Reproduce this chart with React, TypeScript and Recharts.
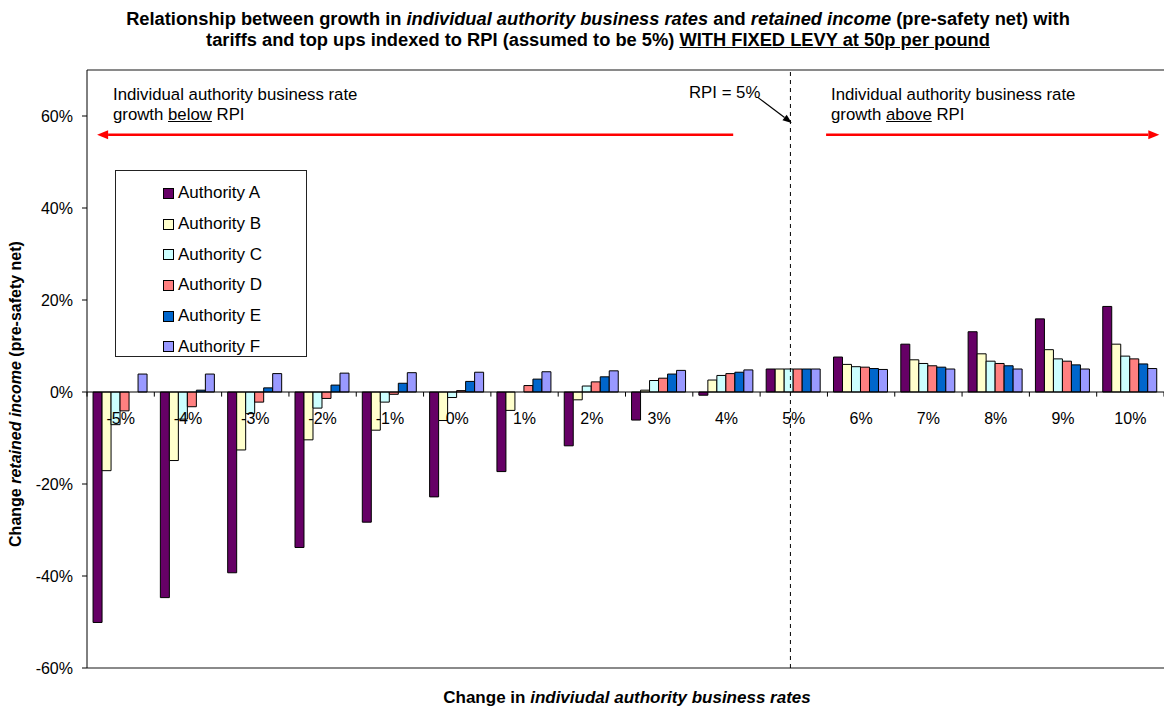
import React from 'react';
import { ComposedChart, Bar, XAxis, YAxis, ReferenceLine, ReferenceDot, Legend } from 'recharts';

// Change in individual authority business rates (categories)
const categories = ['-5%', '-4%', '-3%', '-2%', '-1%', '0%', '1%', '2%', '3%', '4%', '5%', '6%', '7%', '8%', '9%', '10%'];

// Change in retained income (pre-safety net), percent
const authorityA = [-50.1, -44.7, -39.3, -33.8, -28.3, -22.8, -17.3, -11.7, -6.1, -0.7, 5.0, 7.6, 10.4, 13.1, 15.9, 18.6];
const authorityB = [-17.1, -14.9, -12.6, -10.4, -8.3, -6.2, -4.0, -1.7, 0.4, 2.6, 5.0, 6.0, 7.0, 8.3, 9.2, 10.4];
const authorityC = [-7.1, -5.9, -4.7, -3.5, -2.2, -1.2, 0.0, 1.3, 2.5, 3.6, 5.0, 5.5, 6.2, 6.7, 7.2, 7.8];
const authorityD = [-4.1, -3.2, -2.2, -1.4, -0.5, 0.3, 1.4, 2.2, 3.0, 4.0, 5.0, 5.4, 5.7, 6.2, 6.7, 7.2];
const authorityE = [0.0, 0.4, 0.9, 1.5, 1.9, 2.3, 2.8, 3.3, 3.9, 4.3, 5.0, 5.1, 5.4, 5.7, 5.9, 6.1];
const authorityF = [3.9, 3.9, 4.0, 4.1, 4.2, 4.3, 4.4, 4.6, 4.7, 4.8, 5.0, 4.9, 5.0, 5.0, 5.0, 5.1];

const yTicks = [-60, -40, -20, 0, 20, 40, 60];
const yDomain: [number, number] = [-60, 70];
const rpiPosition = 10.45; // RPI = 5% on the continuous category-index scale

const series = [
  { key: 'A', name: 'Authority A', values: authorityA, color: '#660066' },
  { key: 'B', name: 'Authority B', values: authorityB, color: '#FFFFCC' },
  { key: 'C', name: 'Authority C', values: authorityC, color: '#CCFFFF' },
  { key: 'D', name: 'Authority D', values: authorityD, color: '#FF8080' },
  { key: 'E', name: 'Authority E', values: authorityE, color: '#0066CC' },
  { key: 'F', name: 'Authority F', values: authorityF, color: '#9999FF' },
];

const rows = categories.map((cat, i) => {
  const row: Record<string, string | number> = { cat, pos: i + 0.5 };
  series.forEach((s) => {
    row[s.key] = s.values[i];
  });
  return row;
});

const boundaries = [...categories.map((_, i) => i), categories.length];

const FONT = '"Liberation Sans", Arial, sans-serif';

function Arrow(props: any) {
  const { x1, y1, x2, y2, color, width, head, headLen, headW } = props;
  const tipX = head === 'start' ? x1 : x2;
  const tipY = head === 'start' ? y1 : y2;
  const fromX = head === 'start' ? x2 : x1;
  const fromY = head === 'start' ? y2 : y1;
  const dx = tipX - fromX;
  const dy = tipY - fromY;
  const len = Math.sqrt(dx * dx + dy * dy) || 1;
  const ux = dx / len;
  const uy = dy / len;
  const bx = tipX - ux * headLen;
  const by = tipY - uy * headLen;
  const px = -uy * (headW / 2);
  const py = ux * (headW / 2);
  return (
    <g>
      <line x1={fromX} y1={fromY} x2={bx} y2={by} stroke={color} strokeWidth={width} />
      <polygon points={`${tipX},${tipY} ${bx + px},${by + py} ${bx - px},${by - py}`} fill={color} />
    </g>
  );
}

function LegendBox(props: any) {
  const items = props.payload || [];
  return (
    <div
      style={{
        width: 192,
        height: 187,
        boxSizing: 'border-box',
        border: '1px solid #222',
        background: '#fff',
        paddingTop: 7,
        fontFamily: FONT,
      }}
    >
      {items.map((it: any) => (
        <div key={it.value} style={{ display: 'flex', alignItems: 'center', height: 30.7, paddingLeft: 47 }}>
          <span
            style={{
              display: 'inline-block',
              width: 9,
              height: 9,
              background: it.color,
              border: '1px solid #000',
              marginRight: 4,
            }}
          />
          <span style={{ fontSize: 17, color: '#000' }}>{it.value}</span>
        </div>
      ))}
    </div>
  );
}

function CategoryLabel(props: any) {
  const { viewBox, value } = props;
  const cx = viewBox.x + (viewBox.width || 0) / 2;
  const cy = viewBox.y + (viewBox.height || 0) / 2;
  return (
    <text x={cx} y={cy + 26} textAnchor="middle" dominantBaseline="central" fontSize={16} fill="#000" fontFamily={FONT}>
      {value}
    </text>
  );
}

export default function App() {
  return (
    <div style={{ position: 'absolute', left: 0, top: 0, width: 1164, height: 711, background: '#fff', fontFamily: FONT, overflow: 'hidden' }}>
      <ComposedChart
        width={1164}
        height={711}
        data={rows}
        margin={{ top: 70, right: 0, bottom: 43, left: 0 }}
        barCategoryGap="9%"
        barGap={0}
      >
        <XAxis xAxisId="c" dataKey="cat" hide />
        <XAxis xAxisId="n" dataKey="pos" type="number" domain={[0, categories.length]} allowDataOverflow hide />
        <YAxis
          width={87}
          domain={yDomain}
          ticks={yTicks}
          allowDataOverflow
          tickFormatter={(v: number) => `${v}%`}
          tick={{ fontSize: 16, fill: '#000', fontFamily: FONT }}
          axisLine={{ stroke: '#000', strokeWidth: 1 }}
          tickLine={{ stroke: '#000' }}
          tickSize={5}
          tickMargin={9}
        />
        <ReferenceLine y={70} xAxisId="n" stroke="#8a8a8a" strokeWidth={2} />
        <ReferenceLine y={-60} xAxisId="n" stroke="#8a8a8a" strokeWidth={2} />
        {series.map((s) => (
          <Bar
            key={s.key}
            xAxisId="c"
            dataKey={s.key}
            name={s.name}
            fill={s.color}
            stroke="#000"
            strokeWidth={1}
            isAnimationActive={false}
          />
        ))}
        <ReferenceLine y={0} xAxisId="n" stroke="#000" strokeWidth={1} />
        {boundaries.map((b) => (
          <ReferenceLine
            key={`t${b}`}
            xAxisId="n"
            ifOverflow="visible"
            segment={[{ x: b, y: 0 }, { x: b, y: -1 }]}
            stroke="#000"
            strokeWidth={1}
          />
        ))}
        {categories.map((c) => (
          <ReferenceDot
            key={`l${c}`}
            xAxisId="c"
            x={c}
            y={0}
            r={0}
            fill="none"
            stroke="none"
            label={<CategoryLabel value={c} />}
          />
        ))}
        <ReferenceLine x={rpiPosition} xAxisId="n" stroke="#000" strokeWidth={1} strokeDasharray="4 4" />
        <ReferenceLine
          xAxisId="n"
          ifOverflow="visible"
          segment={[{ x: 0.15, y: 55.9 }, { x: 9.6, y: 55.9 }]}
          shape={(p: any) => <Arrow {...p} color="#FF0000" width={2.5} head="start" headLen={11} headW={9} />}
        />
        <ReferenceLine
          xAxisId="n"
          ifOverflow="visible"
          segment={[{ x: 10.98, y: 55.9 }, { x: 15.93, y: 55.9 }]}
          shape={(p: any) => <Arrow {...p} color="#FF0000" width={2.5} head="end" headLen={11} headW={9} />}
        />
        <ReferenceLine
          xAxisId="n"
          ifOverflow="visible"
          segment={[{ x: 9.96, y: 64.1 }, { x: 10.47, y: 58.5 }]}
          shape={(p: any) => <Arrow {...p} color="#000" width={1.2} head="end" headLen={9} headW={7} />}
        />
        <Legend
          layout="vertical"
          align="center"
          verticalAlign="middle"
          content={<LegendBox />}
          wrapperStyle={{ left: 115, top: 170, width: 192, height: 187 }}
        />
      </ComposedChart>

      <div
        style={{
          position: 'absolute',
          left: 0,
          width: 1196,
          top: 8,
          textAlign: 'center',
          fontWeight: 'bold',
          fontSize: 18.3,
          lineHeight: '21px',
          color: '#000',
        }}
      >
        <div>
          Relationship between growth in <i>individual authority business rates</i> and <i>retained income</i> (pre-safety net) with
        </div>
        <div>
          tariffs and top ups indexed to RPI (assumed to be 5%) <u>WITH FIXED LEVY at 50p per pound</u>
        </div>
      </div>

      <div
        style={{
          position: 'absolute',
          left: 16,
          top: 394,
          transform: 'translate(-50%, -50%) rotate(-90deg)',
          whiteSpace: 'nowrap',
          fontWeight: 'bold',
          fontSize: 16,
          color: '#000',
        }}
      >
        Change <i>retained income</i> (pre-safety net)
      </div>

      <div
        style={{
          position: 'absolute',
          left: 0,
          width: 1254,
          top: 688,
          textAlign: 'center',
          fontWeight: 'bold',
          fontSize: 17,
          lineHeight: '20px',
          color: '#000',
        }}
      >
        Change in <i>indiviudal authority business rates</i>
      </div>

      <div style={{ position: 'absolute', left: 113, top: 85, fontSize: 16.8, lineHeight: '20px', color: '#000' }}>
        <div>Individual authority business rate</div>
        <div>
          growth <u>below</u> RPI
        </div>
      </div>
      <div style={{ position: 'absolute', left: 831, top: 85, fontSize: 16.8, lineHeight: '20px', color: '#000' }}>
        <div>Individual authority business rate</div>
        <div>
          growth <u>above</u> RPI
        </div>
      </div>
      <div style={{ position: 'absolute', left: 689, top: 83, fontSize: 16.8, lineHeight: '20px', color: '#000' }}>
        RPI = 5%
      </div>
    </div>
  );
}
